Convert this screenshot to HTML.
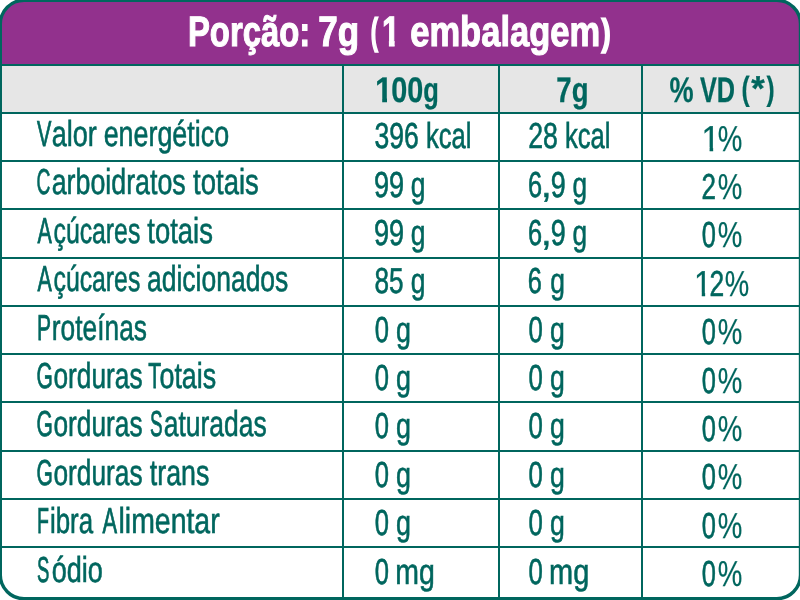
<!DOCTYPE html>
<html lang="pt-BR">
<head>
<meta charset="utf-8">
<title>Informação Nutricional</title>
<style>
html,body{margin:0;padding:0;background:#fff;}
body{width:800px;height:600px;overflow:hidden;}
svg{display:block;transform:translateZ(0);will-change:transform;}
text{font-family:"Liberation Sans",sans-serif;font-size:36px;fill:#00665E;stroke:#00665E;stroke-width:0.6;white-space:pre;text-rendering:geometricPrecision;}
.b{font-weight:bold;font-size:35.5px;stroke-width:0.25;}
.t{font-weight:bold;font-size:42.6px;fill:#fff;stroke:#fff;stroke-width:1.1;}
</style>
</head>
<body>
<svg width="800" height="600" viewBox="0 0 800 600">
<defs><clipPath id="cp"><path d="M24.0,0.3 H776.8 A23.7,23.7 0 0 1 800.5,24.0 V575.0 A23.7,23.7 0 0 1 776.8,598.7 H24.0 A23.7,23.7 0 0 1 0.3,575.0 V24.0 A23.7,23.7 0 0 1 24.0,0.3 Z"/></clipPath><clipPath id="c1n"><rect x="-10" y="-50" width="60" height="46.91"/><rect x="8.74" y="-3.19" width="3.81" height="6.09"/></clipPath><clipPath id="c1b"><rect x="-10" y="-50" width="60" height="46.00"/><rect x="8.01" y="-4.10" width="5.43" height="7.00"/></clipPath><clipPath id="c1t"><rect x="-10" y="-50" width="60" height="44.85"/><rect x="9.06" y="-5.25" width="7.62" height="8.15"/></clipPath></defs>
<g clip-path="url(#cp)">
<rect x="0" y="0" width="800" height="600" fill="#fff"/>
<rect x="0" y="0" width="800" height="65" fill="#92318D"/>
<rect x="0" y="65" width="800" height="48" fill="#E6E6E6"/>
</g>
<g fill="#00665E">
<rect x="0" y="64" width="800" height="2"/>
<rect x="0" y="112" width="800" height="2"/>
<rect x="0" y="160" width="800" height="2"/>
<rect x="0" y="208" width="800" height="2"/>
<rect x="0" y="257" width="800" height="2"/>
<rect x="0" y="305" width="800" height="2"/>
<rect x="0" y="353" width="800" height="2"/>
<rect x="0" y="401" width="800" height="2"/>
<rect x="0" y="450" width="800" height="2"/>
<rect x="0" y="498" width="800" height="2"/>
<rect x="0" y="546" width="800" height="2"/>
<rect x="342" y="65" width="2" height="534"/>
<rect x="498" y="65" width="2" height="534"/>
<rect x="641" y="65" width="2" height="534"/>
</g>
<path d="M24.0,0.3 H776.8 A23.7,23.7 0 0 1 800.5,24.0 V575.0 A23.7,23.7 0 0 1 776.8,598.7 H24.0 A23.7,23.7 0 0 1 0.3,575.0 V24.0 A23.7,23.7 0 0 1 24.0,0.3 Z" fill="none" stroke="#00665E" stroke-width="3.4"/>
<g><text class="t" vector-effect="non-scaling-stroke" transform="translate(187.90,46.00) scale(0.7716,1)">Porção:</text> <text class="t" vector-effect="non-scaling-stroke" transform="translate(318.21,46.00) scale(0.8224,1)">7g</text> <text class="t" style="stroke-width:2.6" vector-effect="non-scaling-stroke" transform="translate(371.05,44.36) scale(0.4744,0.8522)">(</text> <text class="t" clip-path="url(#c1t)" vector-effect="non-scaling-stroke" transform="translate(382.12,46.00) scale(0.7495,1)">1</text> <text class="t" vector-effect="non-scaling-stroke" transform="translate(410.22,46.00) scale(0.8103,1)">embalagem</text> <text class="t" style="stroke-width:2.4" vector-effect="non-scaling-stroke" transform="translate(601.80,44.69) scale(0.6168,0.8595)">)</text> </g>
<g><text class="b" clip-path="url(#c1b)" vector-effect="non-scaling-stroke" transform="translate(375.07,102.00) scale(0.8900,1)">1</text> <text class="b" vector-effect="non-scaling-stroke" transform="translate(391.13,102.00) scale(0.8108,1)">00</text> <text class="b" vector-effect="non-scaling-stroke" transform="translate(423.33,102.00) scale(0.7184,1)">g</text> </g>
<g><text class="b" vector-effect="non-scaling-stroke" transform="translate(556.36,102.00) scale(0.7766,1)">7g</text> </g>
<g><text class="b" vector-effect="non-scaling-stroke" transform="translate(669.45,102.00) scale(0.7637,1)">%</text> <text class="b" vector-effect="non-scaling-stroke" transform="translate(699.88,102.00) scale(0.7123,1)">VD</text> <text class="b" vector-effect="non-scaling-stroke" transform="translate(741.48,99.67) scale(0.6879,0.9413)">(</text> <text class="b" style="stroke-width:0.4" vector-effect="non-scaling-stroke" transform="translate(751.30,100.16) scale(0.9735,0.9699)">*</text> <text class="b" vector-effect="non-scaling-stroke" transform="translate(766.62,99.67) scale(0.6879,0.9413)">)</text> </g>
<g><text style="stroke-width:0.8" vector-effect="non-scaling-stroke" transform="translate(37.10,146.10) scale(0.5995,1)">V</text> <text vector-effect="non-scaling-stroke" transform="translate(51.76,146.10) scale(0.7509,1)">alor</text> <text vector-effect="non-scaling-stroke" transform="translate(103.66,146.10) scale(0.7461,1)">energético</text> </g>
<g><text vector-effect="non-scaling-stroke" transform="translate(374.47,148.20) scale(0.7376,1)">396</text> <text vector-effect="non-scaling-stroke" transform="translate(425.90,148.20) scale(0.7105,1)">kcal</text> </g>
<g><text vector-effect="non-scaling-stroke" transform="translate(528.25,148.20) scale(0.7426,1)">28</text> <text vector-effect="non-scaling-stroke" transform="translate(564.90,148.20) scale(0.7105,1)">kcal</text> </g>
<g><text clip-path="url(#c1n)" style="stroke-width:0.3" vector-effect="non-scaling-stroke" transform="translate(701.55,150.60) scale(0.9234,1)">1</text> <text style="stroke-width:0.25" vector-effect="non-scaling-stroke" transform="translate(717.66,150.60) scale(0.7665,1)">%</text> </g>
<g><text style="stroke-width:0.8" vector-effect="non-scaling-stroke" transform="translate(36.40,194.48) scale(0.5333,1)">C</text> <text vector-effect="non-scaling-stroke" transform="translate(51.71,194.48) scale(0.7441,1)">arboidratos</text> <text vector-effect="non-scaling-stroke" transform="translate(193.10,194.48) scale(0.7631,1)">totais</text> </g>
<g><text vector-effect="non-scaling-stroke" transform="translate(374.03,196.58) scale(0.7535,1)">99</text> <text vector-effect="non-scaling-stroke" transform="translate(410.67,196.58) scale(0.7348,1)">g</text> </g>
<g><text vector-effect="non-scaling-stroke" transform="translate(528.11,196.58) scale(0.7052,1)">6</text> <text vector-effect="non-scaling-stroke" transform="translate(541.22,196.58) scale(1.0222,1)">,</text> <text vector-effect="non-scaling-stroke" transform="translate(550.84,196.58) scale(0.7467,1)">9</text> <text vector-effect="non-scaling-stroke" transform="translate(572.48,196.58) scale(0.7289,1)">g</text> </g>
<g><text vector-effect="non-scaling-stroke" transform="translate(701.58,198.98) scale(0.7230,1)">2</text> <text style="stroke-width:0.25" vector-effect="non-scaling-stroke" transform="translate(717.66,198.98) scale(0.7665,1)">%</text> </g>
<g><text style="stroke-width:0.8" vector-effect="non-scaling-stroke" transform="translate(37.40,242.86) scale(0.5953,1)">A</text> <text vector-effect="non-scaling-stroke" transform="translate(53.53,242.86) scale(0.6882,1)">çúcares</text> <text vector-effect="non-scaling-stroke" transform="translate(147.30,242.86) scale(0.7619,1)">totais</text> </g>
<g><text vector-effect="non-scaling-stroke" transform="translate(374.03,244.96) scale(0.7535,1)">99</text> <text vector-effect="non-scaling-stroke" transform="translate(410.67,244.96) scale(0.7348,1)">g</text> </g>
<g><text vector-effect="non-scaling-stroke" transform="translate(528.11,244.96) scale(0.7052,1)">6</text> <text vector-effect="non-scaling-stroke" transform="translate(541.22,244.96) scale(1.0222,1)">,</text> <text vector-effect="non-scaling-stroke" transform="translate(550.84,244.96) scale(0.7467,1)">9</text> <text vector-effect="non-scaling-stroke" transform="translate(572.48,244.96) scale(0.7289,1)">g</text> </g>
<g><text vector-effect="non-scaling-stroke" transform="translate(701.81,247.36) scale(0.7056,1)">0</text> <text style="stroke-width:0.25" vector-effect="non-scaling-stroke" transform="translate(717.66,247.36) scale(0.7665,1)">%</text> </g>
<g><text style="stroke-width:0.8" vector-effect="non-scaling-stroke" transform="translate(37.40,291.24) scale(0.5953,1)">A</text> <text vector-effect="non-scaling-stroke" transform="translate(53.53,291.24) scale(0.6882,1)">çúcares</text> <text vector-effect="non-scaling-stroke" transform="translate(146.97,291.24) scale(0.7357,1)">adicionados</text> </g>
<g><text vector-effect="non-scaling-stroke" transform="translate(374.48,293.34) scale(0.7261,1)">85</text> <text vector-effect="non-scaling-stroke" transform="translate(410.67,293.34) scale(0.7348,1)">g</text> </g>
<g><text vector-effect="non-scaling-stroke" transform="translate(527.86,293.34) scale(0.7052,1)">6</text> <text vector-effect="non-scaling-stroke" transform="translate(550.22,293.34) scale(0.7348,1)">g</text> </g>
<g><text clip-path="url(#c1n)" style="stroke-width:0.3" vector-effect="non-scaling-stroke" transform="translate(694.11,295.74) scale(0.8778,1)">1</text> <text vector-effect="non-scaling-stroke" transform="translate(709.56,295.74) scale(0.7348,1)">2</text> <text style="stroke-width:0.25" vector-effect="non-scaling-stroke" transform="translate(724.77,295.74) scale(0.7631,1)">%</text> </g>
<g><text style="stroke-width:0.8" vector-effect="non-scaling-stroke" transform="translate(36.96,339.62) scale(0.5841,1)">P</text> <text vector-effect="non-scaling-stroke" transform="translate(51.86,339.62) scale(0.7308,1)">roteínas</text> </g>
<g><text vector-effect="non-scaling-stroke" transform="translate(374.70,341.72) scale(0.7111,1)">0</text> <text vector-effect="non-scaling-stroke" transform="translate(396.06,341.72) scale(0.7467,1)">g</text> </g>
<g><text vector-effect="non-scaling-stroke" transform="translate(528.49,341.72) scale(0.7167,1)">0</text> <text vector-effect="non-scaling-stroke" transform="translate(549.97,341.72) scale(0.7407,1)">g</text> </g>
<g><text vector-effect="non-scaling-stroke" transform="translate(701.81,344.12) scale(0.7056,1)">0</text> <text style="stroke-width:0.25" vector-effect="non-scaling-stroke" transform="translate(717.66,344.12) scale(0.7665,1)">%</text> </g>
<g><text style="stroke-width:0.8" vector-effect="non-scaling-stroke" transform="translate(36.61,388.00) scale(0.5841,1)">G</text> <text vector-effect="non-scaling-stroke" transform="translate(53.48,388.00) scale(0.7295,1)">orduras</text> <text style="stroke-width:0.8" vector-effect="non-scaling-stroke" transform="translate(148.27,388.00) scale(0.5862,1)">T</text> <text vector-effect="non-scaling-stroke" transform="translate(159.46,388.00) scale(0.7453,1)">otais</text> </g>
<g><text vector-effect="non-scaling-stroke" transform="translate(374.70,390.10) scale(0.7111,1)">0</text> <text vector-effect="non-scaling-stroke" transform="translate(396.06,390.10) scale(0.7467,1)">g</text> </g>
<g><text vector-effect="non-scaling-stroke" transform="translate(528.49,390.10) scale(0.7167,1)">0</text> <text vector-effect="non-scaling-stroke" transform="translate(549.97,390.10) scale(0.7407,1)">g</text> </g>
<g><text vector-effect="non-scaling-stroke" transform="translate(701.81,392.50) scale(0.7056,1)">0</text> <text style="stroke-width:0.25" vector-effect="non-scaling-stroke" transform="translate(717.66,392.50) scale(0.7665,1)">%</text> </g>
<g><text style="stroke-width:0.8" vector-effect="non-scaling-stroke" transform="translate(36.61,436.38) scale(0.5841,1)">G</text> <text vector-effect="non-scaling-stroke" transform="translate(53.48,436.38) scale(0.7295,1)">orduras</text> <text style="stroke-width:0.8" vector-effect="non-scaling-stroke" transform="translate(150.01,436.38) scale(0.5240,1)">S</text> <text vector-effect="non-scaling-stroke" transform="translate(163.67,436.38) scale(0.7356,1)">aturadas</text> </g>
<g><text vector-effect="non-scaling-stroke" transform="translate(374.70,438.48) scale(0.7111,1)">0</text> <text vector-effect="non-scaling-stroke" transform="translate(396.06,438.48) scale(0.7467,1)">g</text> </g>
<g><text vector-effect="non-scaling-stroke" transform="translate(528.49,438.48) scale(0.7167,1)">0</text> <text vector-effect="non-scaling-stroke" transform="translate(549.97,438.48) scale(0.7407,1)">g</text> </g>
<g><text vector-effect="non-scaling-stroke" transform="translate(701.81,440.88) scale(0.7056,1)">0</text> <text style="stroke-width:0.25" vector-effect="non-scaling-stroke" transform="translate(717.66,440.88) scale(0.7665,1)">%</text> </g>
<g><text style="stroke-width:0.8" vector-effect="non-scaling-stroke" transform="translate(36.61,484.76) scale(0.5841,1)">G</text> <text vector-effect="non-scaling-stroke" transform="translate(53.48,484.76) scale(0.7295,1)">orduras</text> <text vector-effect="non-scaling-stroke" transform="translate(149.80,484.76) scale(0.7439,1)">trans</text> </g>
<g><text vector-effect="non-scaling-stroke" transform="translate(374.70,486.86) scale(0.7111,1)">0</text> <text vector-effect="non-scaling-stroke" transform="translate(396.06,486.86) scale(0.7467,1)">g</text> </g>
<g><text vector-effect="non-scaling-stroke" transform="translate(528.49,486.86) scale(0.7167,1)">0</text> <text vector-effect="non-scaling-stroke" transform="translate(549.97,486.86) scale(0.7407,1)">g</text> </g>
<g><text vector-effect="non-scaling-stroke" transform="translate(701.81,489.26) scale(0.7056,1)">0</text> <text style="stroke-width:0.25" vector-effect="non-scaling-stroke" transform="translate(717.66,489.26) scale(0.7665,1)">%</text> </g>
<g><text style="stroke-width:0.8" vector-effect="non-scaling-stroke" transform="translate(37.07,533.14) scale(0.5444,1)">F</text> <text vector-effect="non-scaling-stroke" transform="translate(49.88,533.14) scale(0.7189,1)">ibra</text> <text style="stroke-width:0.8" vector-effect="non-scaling-stroke" transform="translate(102.40,533.14) scale(0.6078,1)">A</text> <text vector-effect="non-scaling-stroke" transform="translate(118.52,533.14) scale(0.7897,1)">limentar</text> </g>
<g><text vector-effect="non-scaling-stroke" transform="translate(374.70,535.24) scale(0.7111,1)">0</text> <text vector-effect="non-scaling-stroke" transform="translate(396.06,535.24) scale(0.7467,1)">g</text> </g>
<g><text vector-effect="non-scaling-stroke" transform="translate(528.49,535.24) scale(0.7167,1)">0</text> <text vector-effect="non-scaling-stroke" transform="translate(549.97,535.24) scale(0.7407,1)">g</text> </g>
<g><text vector-effect="non-scaling-stroke" transform="translate(701.81,537.64) scale(0.7056,1)">0</text> <text style="stroke-width:0.25" vector-effect="non-scaling-stroke" transform="translate(717.66,537.64) scale(0.7665,1)">%</text> </g>
<g><text style="stroke-width:0.8" vector-effect="non-scaling-stroke" transform="translate(37.02,581.52) scale(0.5146,1)">S</text> <text vector-effect="non-scaling-stroke" transform="translate(51.65,581.52) scale(0.7514,1)">ódio</text> </g>
<g><text vector-effect="non-scaling-stroke" transform="translate(374.70,583.62) scale(0.7111,1)">0</text> <text vector-effect="non-scaling-stroke" transform="translate(395.32,583.62) scale(0.7915,1)">mg</text> </g>
<g><text vector-effect="non-scaling-stroke" transform="translate(528.49,583.62) scale(0.7167,1)">0</text> <text vector-effect="non-scaling-stroke" transform="translate(549.09,583.62) scale(0.8046,1)">mg</text> </g>
<g><text vector-effect="non-scaling-stroke" transform="translate(701.81,586.02) scale(0.7056,1)">0</text> <text style="stroke-width:0.25" vector-effect="non-scaling-stroke" transform="translate(717.66,586.02) scale(0.7665,1)">%</text> </g>
</svg>
</body>
</html>
